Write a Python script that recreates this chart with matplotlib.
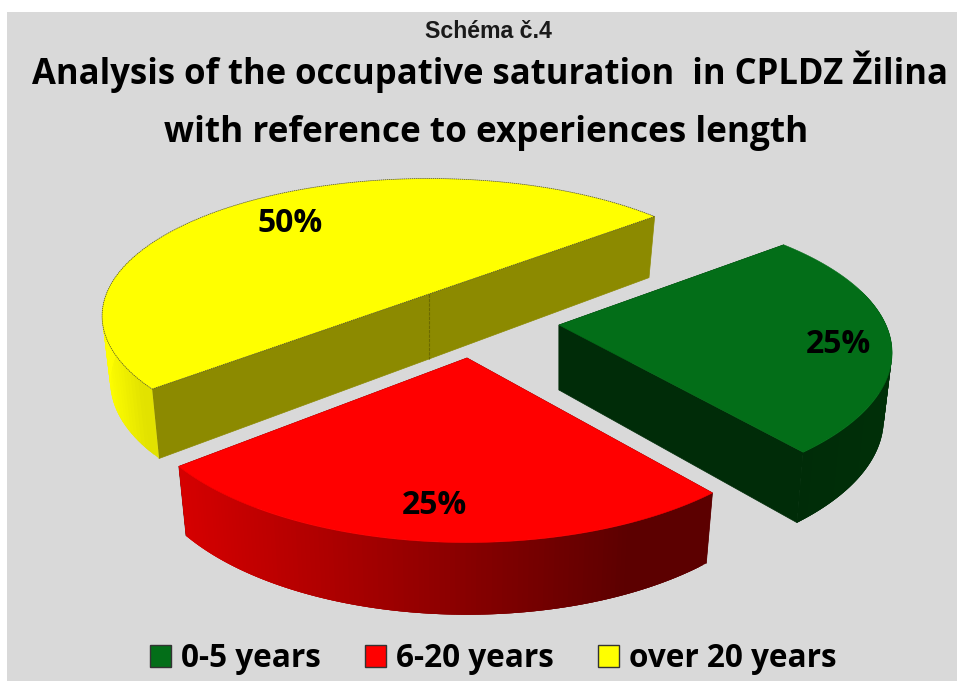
import numpy as np
import matplotlib
matplotlib.use("Agg")
import matplotlib.pyplot as plt
from matplotlib.patches import Polygon, Patch, Rectangle
from matplotlib.colors import to_rgb

# ---- data ----
categories = ["0-5 years", "6-20 years", "over 20 years"]
values = [25, 25, 50]
subtitle = "Schéma č.4"
title_lines = ["Analysis of the occupative saturation  in CPLDZ Žilina",
               "with reference to experiences length"]

# ---- style / layout ----
top_colors = ["#036e18", "#ff0000", "#ffff00"]
wall_colors = ["#002c08", "#5c0000", "#8c8a00"]
arc_from = ["#002c08", "#d60000", "#ffff00"]
arc_to = ["#002f08", "#5c0000", "#e2e200"]
apex = [(559, 325), (467, 358), (429, 294)]
xscale = [0.985, 0.99, 0.972]
yscale = [1.0, 1.06, 0.95]
persp = [0.19, 0.19, 0.16]
label_r = [0.84, 0.82, 0.76]
label_dx = [2, -3, 4]
label_dy = [5, 0, -2]
START, RX, RY = -39.6, 332.0, 141.0
DEPTH, KD, XSHRINK = 65.0, 0.10, 0.975
FONT = "Open Sans"


def top(i, phi, r=1.0):
    s, c = np.sin(np.radians(phi)) * r, np.cos(np.radians(phi)) * r
    w = 1 - persp[i] * s
    return np.column_stack([apex[i][0] + RX * xscale[i] * c / w,
                            apex[i][1] + RY * yscale[i] * s / w])


def bottom(i, phi, r=1.0):
    p = top(i, phi, r)
    s = np.sin(np.radians(phi)) * r
    return np.column_stack([apex[i][0] + (p[:, 0] - apex[i][0]) * XSHRINK,
                            p[:, 1] + DEPTH / (1 - KD * s)])


fig = plt.figure(figsize=(9.57, 6.81), dpi=100, facecolor="white")
ax = fig.add_axes([0, 0, 1, 1])
ax.set_xlim(0, 957)
ax.set_ylim(681, 0)
ax.axis("off")
ax.add_patch(Rectangle((7, 12), 950, 669, fc="#d9d9d9", ec="none", zorder=0))

edges = START + np.cumsum([0] + values) / sum(values) * 360.0
z = 1
for i in [2, 0, 1]:
    a0, a1 = edges[i], edges[i + 1]
    phi = np.linspace(a0, a1, 121)
    ctop = top(i, phi)
    cbot = bottom(i, phi)
    apex_t = np.array(apex[i], float)
    apex_b = apex_t + [0, DEPTH]

    # radial walls first, the rounded wall goes over them
    for end in (0, -1):
        ax.add_patch(Polygon([apex_t, ctop[end], cbot[end], apex_b], closed=True,
                             fc=wall_colors[i], ec=wall_colors[i], lw=0.5, zorder=z))
    if values[i] >= sum(values) / 2:
        ax.plot([apex_t[0], apex_b[0]], [apex_t[1], apex_b[1]], color="#6c6a00",
                lw=0.8, ls=(0, (3, 1)), zorder=z + 1)

    c0, c1 = np.array(to_rgb(arc_from[i])), np.array(to_rgb(arc_to[i]))
    visible = np.sin(np.radians(phi)) > -0.25
    xs = ctop[:, 0]
    lo, hi = xs[visible].min(), xs[visible].max()
    n = len(phi)
    # overlapping strips, painted along the arc, so no seams show through
    for j in range(n - 1):
        if visible[j] or visible[j + 1]:
            e = min(j + 3, n - 1)
            t = np.clip((xs[j] - lo) / (hi - lo) / 0.85, 0, 1)
            col = c0 + (c1 - c0) * t
            ax.add_patch(Polygon([ctop[j], ctop[e], cbot[e], cbot[j]], closed=True,
                                 fc=col, ec="none", zorder=z + 2))

    pts = np.vstack([apex_t, ctop])
    if i == 2:
        ax.add_patch(Polygon(pts, closed=True, fc=top_colors[i], ec="#4a4a30", lw=0.5,
                             ls=(0, (2, 1)), zorder=z + 3))
    else:
        ax.add_patch(Polygon(pts, closed=True, fc=top_colors[i], ec=top_colors[i], lw=0.4,
                             zorder=z + 3))
    lp = top(i, np.array([(a0 + a1) / 2]), label_r[i])[0]
    ax.text(lp[0] + label_dx[i], lp[1] + 3 + label_dy[i], f"{values[i]}%", ha="center",
            va="center", color="black", fontsize=23, fontweight="bold", family=FONT, zorder=20)
    z += 5

ax.text(488.5, 38, subtitle, ha="center", va="baseline", fontsize=16.7, fontweight="bold",
        family="Liberation Sans", color="#1a1a1a", zorder=20)
ax.text(489.5, 84, title_lines[0], ha="center", va="baseline", fontsize=24.9, fontweight="bold",
        family=FONT, zorder=20)
ax.text(486.5, 142, title_lines[1], ha="center", va="baseline", fontsize=25.3, fontweight="bold",
        family=FONT, zorder=20)

handles = [Patch(fc=c, ec="#333333", lw=1.0) for c in top_colors]
ax.legend(handles, categories, loc="center", bbox_to_anchor=(493 / 957, 1 - 658.5 / 681),
          ncol=3, frameon=False, handlelength=0.68, handleheight=0.68,
          handletextpad=0.3, columnspacing=1.4, prop=dict(family=FONT, weight="bold", size=22.7))

fig.savefig("out.png", dpi=100, facecolor="white")
